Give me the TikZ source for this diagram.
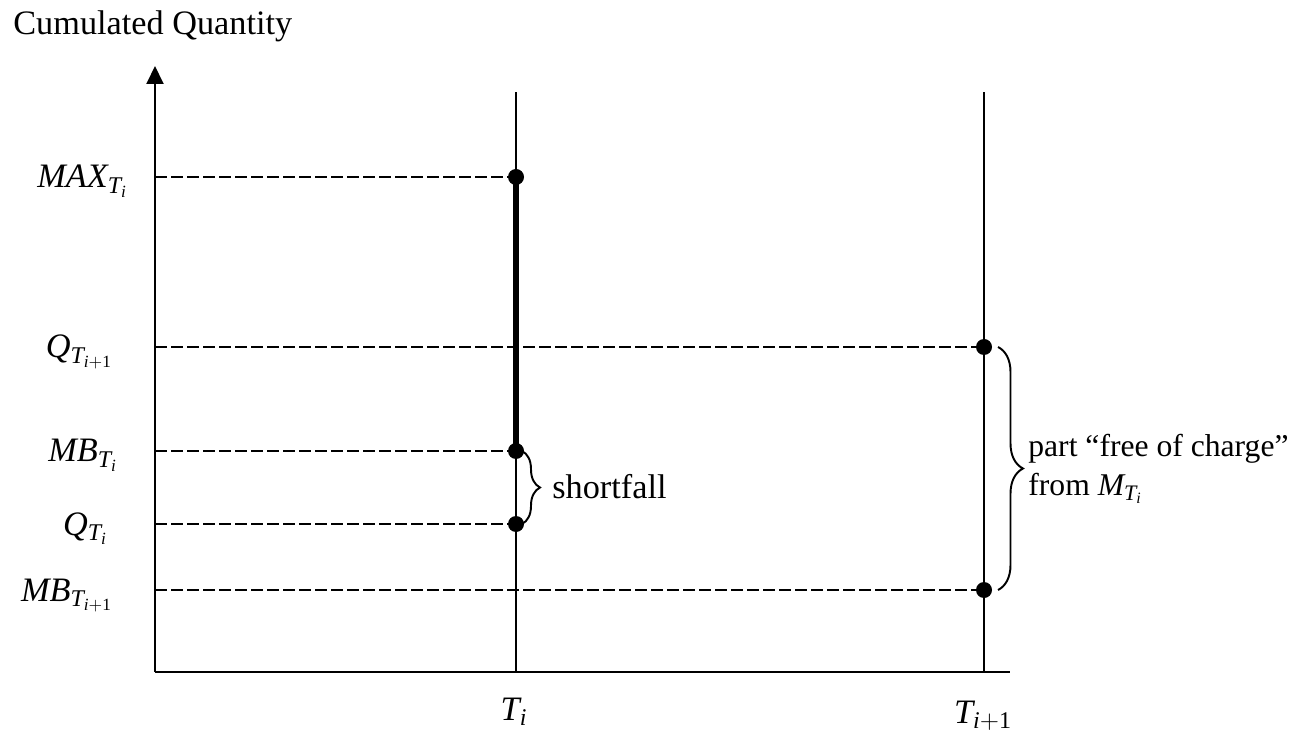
\documentclass[tikz,border=0pt]{standalone}
\usepackage{fontspec}
\setmainfont{Liberation Serif}
\usepackage{tikz}
\usetikzlibrary{arrows.meta,decorations.pathreplacing}

\newcommand{\lab}[2]{$\mathit{#1}_{#2}$}
\newcommand{\Ti}{\mathit{T}_{\mathit{i}}}
\newcommand{\Tii}{\mathit{T}_{\mathit{i}\mathrm{+1}}}

\begin{document}
\begin{tikzpicture}[every node/.style={font=\fontsize{19.5}{23}\selectfont, inner sep=0pt}, >={Triangle[length=0.36cm, width=0.34cm]},
	axis/.style={line width=1.1pt},
	level/.style={dash pattern=on 0.24cm off 0.08cm, line width=1.1pt},
	dot/.style={circle, fill=black, minimum size=0.32cm, inner sep=0pt},
	curly/.style={decorate, decoration={brace, amplitude=#1}, line width=1.1pt}]
	\useasboundingbox (0,0) rectangle (25.9,14.66);
	% axes
	\coordinate (O) at (3.10,1.22);
	\draw[axis, ->] (O) -- (3.10,13.34);
	\draw[axis] (O) -- (20.20,1.22);
	\node[anchor=base west] (ylab) at (0.26,13.96) {Cumulated Quantity};
	% time lines
	\coordinate (Tibot) at (10.32,1.22);
	\coordinate (Titop) at (10.32,12.82);
	\coordinate (Tiibot) at (19.68,1.22);
	\coordinate (Tiitop) at (19.68,12.82);
	\draw[axis] (Tibot) -- (Titop);
	\draw[axis] (Tiibot) -- (Tiitop);
	\node[anchor=base] (tilab) at (10.28,0.26) {$\Ti$};
	\node[anchor=base] (tiilab) at (19.66,0.20) {$\Tii$};
	% points on the time lines
	\node[dot] (maxT) at (10.32,11.12) {};
	\node[dot] (mbT) at (10.32,5.64) {};
	\node[dot] (qT) at (10.32,4.18) {};
	\node[dot] (qTT) at (19.68,7.72) {};
	\node[dot] (mbTT) at (19.68,2.86) {};
	\draw[line width=3.4pt] (maxT.center) -- (mbT.center);
	% levels on the y axis
	\coordinate (ymax) at (3.10,11.12);
	\coordinate (yqTT) at (3.10,7.72);
	\coordinate (ymbT) at (3.10,5.64);
	\coordinate (yqT) at (3.10,4.18);
	\coordinate (ymbTT) at (3.10,2.86);
	\draw[level] (ymax) -- (maxT.center);
	\draw[level] (yqTT) -- (qTT.center);
	\draw[level] (ymbT) -- (mbT.center);
	\draw[level] (yqT) -- (qT.center);
	\draw[level] (ymbTT) -- (mbTT.center);
	\node[anchor=base east] (lmax) at (2.56,10.90) {\lab{MAX}{\Ti}};
	\node[anchor=base east] (lqTT) at (2.26,7.50) {\lab{Q}{\Tii}};
	\node[anchor=base east] (lmbT) at (2.36,5.42) {\lab{MB}{\Ti}};
	\node[anchor=base east] (lqT) at (2.16,3.96) {\lab{Q}{\Ti}};
	\node[anchor=base east] (lmbTT) at (2.26,2.64) {\lab{MB}{\Tii}};
	% braces
	\coordinate (sbtop) at (10.44,5.64);
	\coordinate (sbbot) at (10.44,4.18);
	\draw[curly=0.36cm] (sbtop) -- (sbbot);
	\node[anchor=west] (short) at (11.04,4.92) {shortfall};
	\coordinate (fbtop) at (19.96,7.72);
	\coordinate (fbbot) at (19.96,2.86);
	\draw[curly=0.5cm] (fbtop) -- (fbbot);
	\node[anchor=west, align=left, font=\fontsize{18}{22}\selectfont] (free) at (20.56,5.28) {part “free of charge”\\[0pt] from \lab{M}{\Ti}};
\end{tikzpicture}
\end{document}
